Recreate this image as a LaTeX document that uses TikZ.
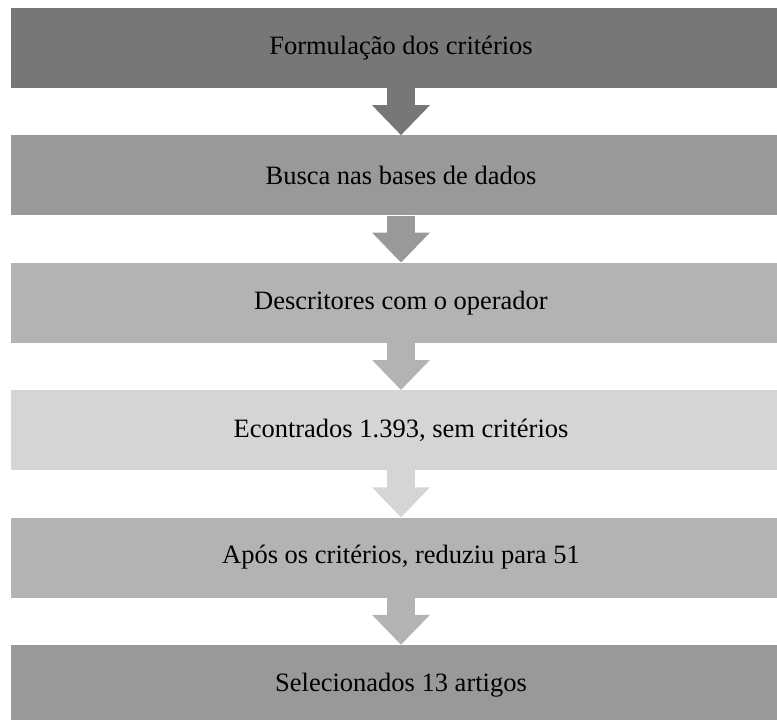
\documentclass[tikz,border=0pt]{standalone}
\usepackage{fontspec}
\setmainfont{Liberation Serif}
\usetikzlibrary{arrows.meta,positioning}
\definecolor{cinzaA}{HTML}{777777}
\definecolor{cinzaB}{HTML}{999999}
\definecolor{cinzaC}{HTML}{B3B3B3}
\definecolor{cinzaD}{HTML}{D5D5D5}

\begin{document}
\begin{tikzpicture}[x=1pt,y=1pt,
  etapa/.style={rectangle,minimum width=780pt,minimum height=80pt,inner sep=0pt,font=\fontsize{26.5}{30}\selectfont},
  seta/.style={line width=28pt,-{Triangle[width=56pt,length=30pt]}}]
  \useasboundingbox (0,0) rectangle (777,-720);
  % Etapas da busca
  \node[etapa,fill=cinzaA] (E1) at (401,-48) {Formulação dos critérios};
  \node[etapa,fill=cinzaB,below=47pt of E1] (E2) {Busca nas bases de dados};
  \node[etapa,fill=cinzaC,below=47pt of E2] (E3) {Descritores com o operador};
  \node[etapa,fill=cinzaD,below=47pt of E3] (E4) {Econtrados 1.393, sem critérios};
  \node[etapa,fill=cinzaC,below=47pt of E4] (E5) {Após os critérios, reduziu para 51};
  \node[etapa,fill=cinzaB,below=47pt of E5] (E6) {Selecionados 13 artigos};
  % Setas entre as etapas
  \draw[seta,cinzaA] (E1) -- (E2);
  \draw[seta,cinzaB] (E2) -- (E3);
  \draw[seta,cinzaC] (E3) -- (E4);
  \draw[seta,cinzaD] (E4) -- (E5);
  \draw[seta,cinzaC] (E5) -- (E6);
\end{tikzpicture}
\end{document}
